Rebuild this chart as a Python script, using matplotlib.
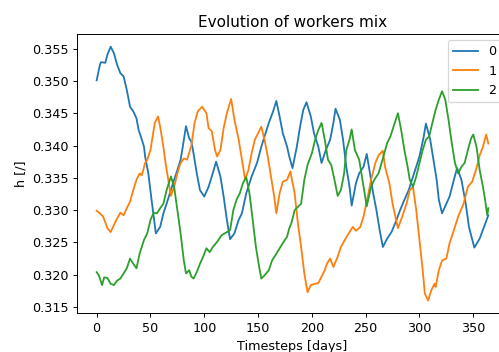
import matplotlib
matplotlib.use("Agg")
import matplotlib.pyplot as plt

# mix share per worker group, sampled along the simulated year
days_0 = [0, 3, 4, 8, 10, 13, 16, 19, 22, 25, 28, 31, 34, 37, 39, 42, 44, 45, 48, 51,
          53, 55, 59, 62, 65, 68, 72, 75, 78, 80, 83, 86, 88, 90, 93, 96, 100, 104, 107, 111,
          115, 118, 121, 124, 128, 132, 135, 139, 144, 149, 153, 156, 160, 164, 167, 170, 173, 177, 179, 182,
          186, 189, 192, 195, 199, 202, 206, 209, 213, 217, 220, 222, 226, 229, 232, 235, 237, 241, 244, 248,
          251, 254, 257, 260, 263, 266, 270, 274, 278, 282, 286, 290, 295, 300, 304, 306, 310, 313, 316, 318,
          321, 325, 328, 332, 335, 339, 343, 346, 351, 356, 360, 364]
h_0 = [0.3501, 0.3525, 0.3529, 0.3528, 0.3541, 0.3553, 0.3543, 0.3525, 0.3512, 0.3507, 0.3486, 0.3460, 0.3453, 0.3442, 0.3424, 0.3409, 0.3398, 0.3383, 0.3357, 0.3316,
       0.3290, 0.3264, 0.3274, 0.3295, 0.3310, 0.3326, 0.3347, 0.3362, 0.3378, 0.3398, 0.3430, 0.3411, 0.3406, 0.3388, 0.3357, 0.3331, 0.3321, 0.3336, 0.3352, 0.3375,
       0.3352, 0.3321, 0.3285, 0.3255, 0.3264, 0.3285, 0.3295, 0.3326, 0.3352, 0.3373, 0.3398, 0.3414, 0.3435, 0.3453, 0.3469, 0.3445, 0.3419, 0.3398, 0.3383, 0.3365,
       0.3398, 0.3429, 0.3455, 0.3467, 0.3445, 0.3419, 0.3398, 0.3373, 0.3393, 0.3409, 0.3435, 0.3457, 0.3440, 0.3409, 0.3367, 0.3336, 0.3307, 0.3342, 0.3357, 0.3367,
       0.3387, 0.3357, 0.3326, 0.3300, 0.3269, 0.3243, 0.3256, 0.3266, 0.3282, 0.3300, 0.3316, 0.3331, 0.3357, 0.3383, 0.3414, 0.3434, 0.3409, 0.3378, 0.3347, 0.3316,
       0.3295, 0.3310, 0.3321, 0.3347, 0.3365, 0.3347, 0.3310, 0.3274, 0.3242, 0.3256, 0.3274, 0.3292]

days_1 = [0, 3, 6, 10, 13, 16, 19, 22, 25, 28, 31, 34, 37, 40, 42, 45, 47, 50, 52, 54,
          57, 59, 62, 64, 67, 69, 72, 75, 78, 81, 84, 88, 91, 94, 98, 102, 104, 107, 110, 112,
          115, 118, 121, 125, 128, 132, 135, 138, 141, 144, 147, 150, 153, 156, 159, 162, 165, 167, 170, 173,
          177, 180, 184, 187, 190, 193, 196, 199, 203, 206, 209, 212, 214, 217, 220, 224, 227, 231, 235, 238,
          241, 245, 248, 252, 255, 259, 262, 266, 268, 272, 275, 280, 284, 288, 291, 294, 297, 300, 303, 305,
          308, 311, 314, 315, 318, 321, 325, 328, 332, 336, 341, 345, 349, 353, 356, 359, 362, 364]
h_1 = [0.3299, 0.3295, 0.3290, 0.3272, 0.3266, 0.3277, 0.3287, 0.3296, 0.3292, 0.3303, 0.3313, 0.3331, 0.3347, 0.3357, 0.3354, 0.3373, 0.3378, 0.3393, 0.3414, 0.3435,
       0.3445, 0.3429, 0.3398, 0.3373, 0.3342, 0.3322, 0.3336, 0.3357, 0.3373, 0.3380, 0.3378, 0.3400, 0.3435, 0.3453, 0.3460, 0.3450, 0.3427, 0.3422, 0.3393, 0.3383,
       0.3393, 0.3427, 0.3450, 0.3472, 0.3440, 0.3409, 0.3378, 0.3347, 0.3362, 0.3388, 0.3409, 0.3419, 0.3429, 0.3409, 0.3383, 0.3352, 0.3321, 0.3295, 0.3326, 0.3344,
       0.3347, 0.3360, 0.3326, 0.3280, 0.3243, 0.3202, 0.3173, 0.3184, 0.3186, 0.3187, 0.3197, 0.3207, 0.3217, 0.3225, 0.3212, 0.3228, 0.3243, 0.3255, 0.3266, 0.3274,
       0.3268, 0.3274, 0.3290, 0.3321, 0.3347, 0.3373, 0.3385, 0.3392, 0.3367, 0.3342, 0.3310, 0.3272, 0.3290, 0.3310, 0.3331, 0.3336, 0.3300, 0.3254, 0.3207, 0.3171,
       0.3160, 0.3176, 0.3186, 0.3181, 0.3207, 0.3222, 0.3225, 0.3249, 0.3269, 0.3290, 0.3310, 0.3336, 0.3344, 0.3365, 0.3385, 0.3398, 0.3417, 0.3403]

days_2 = [0, 2, 5, 7, 10, 13, 16, 19, 22, 25, 28, 31, 34, 37, 40, 44, 47, 50, 53, 56,
          59, 62, 65, 69, 72, 75, 78, 81, 83, 86, 88, 90, 93, 96, 99, 102, 105, 108, 112, 116,
          121, 124, 127, 130, 133, 136, 139, 142, 145, 148, 151, 153, 156, 160, 163, 166, 169, 173, 177, 179,
          181, 184, 187, 190, 193, 196, 200, 203, 206, 209, 212, 215, 218, 221, 224, 227, 230, 232, 235, 237,
          240, 244, 247, 251, 255, 258, 262, 266, 270, 273, 277, 280, 283, 286, 289, 291, 294, 297, 300, 303,
          306, 309, 312, 315, 318, 321, 324, 327, 330, 333, 336, 339, 342, 345, 348, 350, 353, 356, 359, 361,
          363, 364]
h_2 = [0.3204, 0.3199, 0.3184, 0.3196, 0.3195, 0.3186, 0.3184, 0.3191, 0.3194, 0.3202, 0.3210, 0.3225, 0.3217, 0.3210, 0.3233, 0.3254, 0.3264, 0.3285, 0.3296, 0.3295,
       0.3303, 0.3310, 0.3331, 0.3352, 0.3336, 0.3300, 0.3264, 0.3222, 0.3202, 0.3207, 0.3197, 0.3194, 0.3204, 0.3217, 0.3228, 0.3241, 0.3235, 0.3243, 0.3251, 0.3261,
       0.3266, 0.3269, 0.3300, 0.3316, 0.3326, 0.3342, 0.3351, 0.3326, 0.3285, 0.3243, 0.3212, 0.3194, 0.3199, 0.3207, 0.3222, 0.3230, 0.3238, 0.3249, 0.3259, 0.3272,
       0.3280, 0.3300, 0.3305, 0.3310, 0.3347, 0.3370, 0.3388, 0.3409, 0.3424, 0.3435, 0.3409, 0.3378, 0.3370, 0.3347, 0.3322, 0.3331, 0.3357, 0.3393, 0.3409, 0.3425,
       0.3393, 0.3378, 0.3347, 0.3306, 0.3336, 0.3347, 0.3357, 0.3380, 0.3404, 0.3414, 0.3435, 0.3450, 0.3424, 0.3393, 0.3367, 0.3347, 0.3336, 0.3352, 0.3373, 0.3393,
       0.3409, 0.3414, 0.3435, 0.3455, 0.3471, 0.3484, 0.3471, 0.3440, 0.3404, 0.3373, 0.3357, 0.3367, 0.3373, 0.3393, 0.3411, 0.3417, 0.3398, 0.3362, 0.3336, 0.3316,
       0.3292, 0.3303]

labels = ["0", "1", "2"]

plt.rcParams["font.size"] = 10.5

dpi = 87
fig = plt.figure(figsize=(500 / dpi, 352 / dpi), dpi=dpi)
ax = fig.add_axes([0.1542, 0.110, 0.8616, 0.7935])

for d, h, lab in zip([days_0, days_1, days_2], [h_0, h_1, h_2], labels):
    ax.plot(d, h, label=lab)

ax.set_title("Evolution of workers mix")
ax.set_xlabel("Timesteps [days]")
ax.set_ylabel("h [/]")
ax.legend(loc="upper right")

fig.savefig("out.png", dpi=dpi)
